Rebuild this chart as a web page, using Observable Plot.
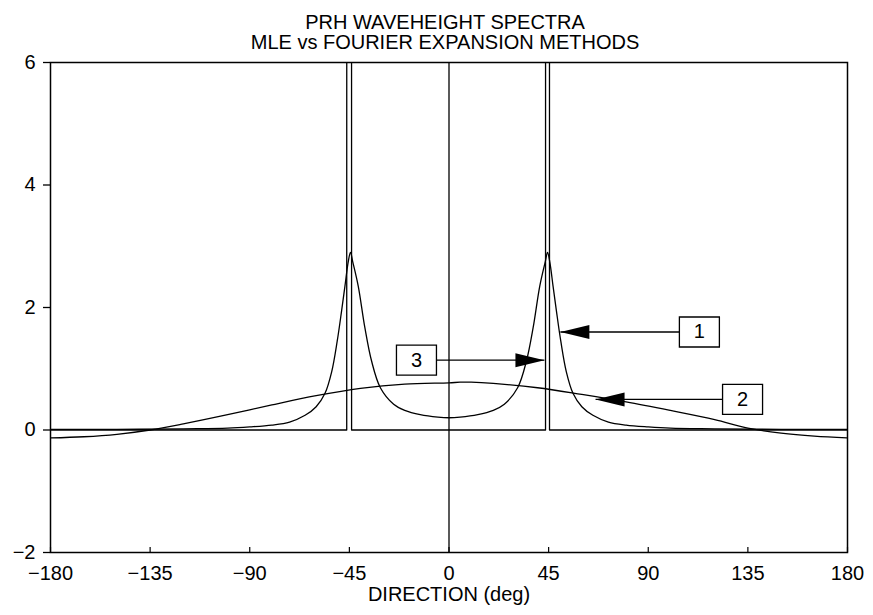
<!DOCTYPE html>
<html>
<head>
<meta charset="utf-8">
<script src="https://cdn.jsdelivr.net/npm/d3@7"></script>
<script src="https://cdn.jsdelivr.net/npm/@observablehq/plot@0.6"></script>
<style>
  html, body { margin: 0; padding: 0; background: white; }
</style>
</head>
<body>
<div id="chart"></div>
<script>
// ---- Data ----
const titleLines = ["PRH WAVEHEIGHT SPECTRA", "MLE vs FOURIER EXPANSION METHODS"];
const xLabel = "DIRECTION (deg)";
const xTicks = [-180, -135, -90, -45, 0, 45, 90, 135, 180];
const yTicks = [-2, 0, 2, 4, 6];

// Curve 1: peaked spectrum
const curve1X = [-180, -150, -120, -100, -90, -80, -72, -65, -60, -56, -53, -50.5, -48.5, -47, -45.5, -44.5, -43.5, -41, -38, -35, -31, -25, -20, -13, -5, 0,
                  5, 13, 20, 25, 31, 35, 38, 41, 43.5, 44.5, 45.5, 47, 48.5, 50.5, 53, 56, 60, 65, 72, 80, 90, 100, 120, 150, 180];
const curve1Y = [0.01, 0.01, 0.02, 0.03, 0.05, 0.08, 0.13, 0.24, 0.38, 0.6, 0.95, 1.45, 1.95, 2.35, 2.75, 2.9, 2.75, 2.35, 1.67, 1.13, 0.69, 0.42, 0.32, 0.25, 0.21, 0.2,
                  0.21, 0.25, 0.32, 0.42, 0.69, 1.13, 1.67, 2.35, 2.75, 2.9, 2.75, 2.35, 1.95, 1.45, 0.95, 0.6, 0.38, 0.24, 0.13, 0.08, 0.05, 0.03, 0.02, 0.01, 0.01];

// Curve 2: broad spectrum
const curve2X = [-180, -165, -150, -135, -120, -100, -80, -60, -40, -20, 0, 5, 10, 20, 40, 60, 80, 100, 120, 135, 150, 165, 180];
const curve2Y = [-0.13, -0.11, -0.07, 0.0, 0.1, 0.25, 0.41, 0.56, 0.68, 0.75, 0.77, 0.78, 0.78, 0.76, 0.69, 0.58, 0.46, 0.32, 0.17, 0.03, -0.05, -0.1, -0.13];

// Curve 3: narrow spikes (off scale)
const curve3X = [-180, -46.2, -45.1, -44.0, 43.6, 44.5, 45.4, 180];
const curve3Y = [0, 0, 400, 0, 0, 400, 0, 0];

// Annotation boxes: label, box centre (x, y), arrow tip x, arrow direction
const annLabels = ["1", "2", "3"];
const annBoxX = [113.1, 132.6, -14.7];
const annBoxY = [1.6, 0.5, 1.14];
const annTipX = [50.3, 66.2, 43.1];
const annDir = ["left", "left", "right"];

// ---- Build tables ----
const c1 = curve1X.map((x, i) => ({x, y: curve1Y[i]}));
const c2 = curve2X.map((x, i) => ({x, y: curve2Y[i]}));
const c3 = curve3X.map((x, i) => ({x, y: curve3Y[i]}));
const ann = annLabels.map((label, i) => ({label, bx: annBoxX[i], by: annBoxY[i], tx: annTipX[i], dir: annDir[i]}));

const boxSymbol = { draw(ctx) { ctx.rect(-20, -15, 40, 30); } };
const headLeft = { draw(ctx) { ctx.moveTo(0, 0); ctx.lineTo(29, -7); ctx.lineTo(29, 7); ctx.closePath(); } };
const headRight = { draw(ctx) { ctx.moveTo(0, 0); ctx.lineTo(-29, -7); ctx.lineTo(-29, 7); ctx.closePath(); } };

const fmt = d => d < 0 ? "\u2212" + (-d) : String(d);

const chart = Plot.plot({
  width: 873,
  height: 615,
  marginLeft: 50,
  marginRight: 26,
  marginTop: 62,
  marginBottom: 63,
  style: { fontFamily: "'Liberation Sans', Arial, sans-serif", fontSize: "20px", color: "black", background: "white" },
  x: { domain: [-180, 180] },
  y: { domain: [-2, 6] },
  marks: [
    Plot.axisY(yTicks, { tickSize: 7, tickPadding: 8, tickFormat: fmt, label: null, fontSize: 20, strokeWidth: 1.3 }),
    Plot.axisX(xTicks, { tickSize: 0, tickPadding: 13, tickFormat: fmt, label: null, fontSize: 20 }),
    Plot.ruleX(xTicks, { x: d => d, y1: -2, y2: -2, insetBottom: 5, strokeWidth: 1.2 }),
    Plot.ruleX([0], { strokeWidth: 1.3 }),
    Plot.line(c3, { x: "x", y: "y", clip: true, strokeWidth: 1.3, stroke: "black" }),
    Plot.line(c2, { x: "x", y: "y", clip: true, strokeWidth: 1.3, stroke: "black", curve: "catmull-rom" }),
    Plot.line(c1, { x: "x", y: "y", clip: true, strokeWidth: 1.3, stroke: "black", curve: "catmull-rom" }),
    Plot.link(ann, { x1: "bx", y1: "by", x2: "tx", y2: "by", stroke: "black", strokeWidth: 1.3 }),
    Plot.dot(ann.filter(d => d.dir === "left"), { x: "tx", y: "by", symbol: headLeft, fill: "black", stroke: "none" }),
    Plot.dot(ann.filter(d => d.dir === "right"), { x: "tx", y: "by", symbol: headRight, fill: "black", stroke: "none" }),
    Plot.dot(ann, { x: "bx", y: "by", symbol: boxSymbol, fill: "white", stroke: "black", strokeWidth: 1.3 }),
    Plot.text(ann, { x: "bx", y: "by", text: "label", fontSize: 20, fill: "black" }),
    Plot.frame({ strokeWidth: 1.5, stroke: "black" }),
    Plot.text([titleLines[0]], { frameAnchor: "top", text: d => d, dx: -4, dy: -34, lineAnchor: "bottom", fontSize: 20, fill: "black" }),
    Plot.text([titleLines[1]], { frameAnchor: "top", text: d => d, dx: -4, dy: -14, lineAnchor: "bottom", fontSize: 20, fill: "black" }),
    Plot.text([xLabel], { frameAnchor: "bottom", text: d => d, dy: 48, lineAnchor: "bottom", fontSize: 20, fill: "black" })
  ]
});
document.getElementById("chart").appendChild(chart);
</script>
</body>
</html>
